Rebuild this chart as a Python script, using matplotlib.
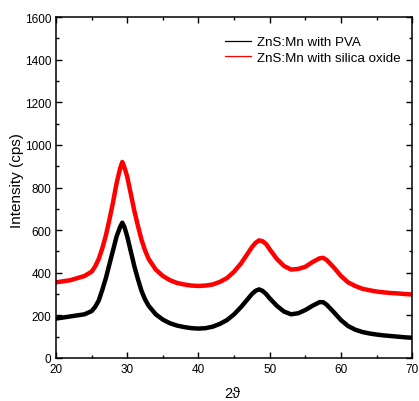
import matplotlib
matplotlib.use("Agg")
import matplotlib.pyplot as plt
from matplotlib.lines import Line2D
from matplotlib.ticker import MultipleLocator

plt.rcParams['font.family'] = ['Liberation Sans', 'DejaVu Sans']

# 2theta positions (deg)
two_theta = [20, 21, 22, 23, 24, 25, 25.5, 26, 26.5, 27, 27.5, 28, 28.5, 29, 29.3, 29.6,
             30, 30.5, 31, 31.5, 32, 32.5, 33, 34, 35, 36, 37, 38, 39, 40, 41, 42, 43, 44,
             45, 46, 47, 47.5, 48, 48.5, 49, 49.5, 50, 51, 52, 53, 54, 55, 56, 57, 57.5, 58,
             59, 60, 61, 62, 63, 64, 65, 66, 67, 68, 69, 70]

# ZnS:Mn with PVA (cps)
pva = [185, 190, 195, 200, 205, 220, 240, 270, 320, 375, 440, 505, 570, 615, 635, 615,
       570, 500, 430, 370, 315, 275, 245, 205, 180, 163, 152, 145, 140, 138, 140, 147, 160, 178,
       205, 240, 280, 300, 315, 322, 315, 300, 280, 245, 218, 205, 210, 225, 245, 262, 262, 250,
       215, 178, 150, 133, 122, 115, 110, 106, 103, 100, 97, 95]

# ZnS:Mn with silica oxide (cps)
silica = [355, 360, 365, 375, 385, 405, 430, 465, 515, 575, 650, 730, 820, 890, 920, 895,
          850, 770, 690, 620, 555, 505, 465, 415, 385, 365, 352, 345, 340, 338, 340, 345, 357, 375,
          405, 445, 495, 520, 540, 552, 548, 535, 510, 465, 432, 415, 418, 428, 450, 468, 470, 460,
          425, 385, 355, 338, 325, 318, 312, 308, 305, 303, 300, 298]

labels = ['ZnS:Mn with PVA', 'ZnS:Mn with silica oxide']

fig = plt.figure(figsize=(4.19, 4.02), dpi=100)
ax = fig.add_axes([0.1337, 0.107, 0.850, 0.848])

ax.plot(two_theta, pva, color='black', lw=3.2, solid_joinstyle='round')
ax.plot(two_theta, silica, color='red', lw=3.2, solid_joinstyle='round')

ax.set_xlim(20, 70)
ax.set_ylim(0, 1600)
ax.xaxis.set_major_locator(MultipleLocator(10))
ax.xaxis.set_minor_locator(MultipleLocator(5))
ax.yaxis.set_major_locator(MultipleLocator(200))
ax.yaxis.set_minor_locator(MultipleLocator(100))
ax.tick_params(which='both', direction='in', top=True, right=True, labelsize=8.5, width=1)
ax.tick_params(which='major', length=4)
ax.tick_params(which='minor', length=2.5)
for s in ax.spines.values():
    s.set_linewidth(1.1)

ax.set_xlabel('2\u03d1', fontsize=10.5)
ax.xaxis.set_label_coords(0.495, -0.083)
ax.set_ylabel('Intensity (cps)', fontsize=11)
ax.yaxis.set_label_coords(-0.09, 0.522)

handles = [Line2D([], [], color='black', lw=0.9), Line2D([], [], color='red', lw=0.9)]
ax.legend(handles, labels, loc='upper right', frameon=False, fontsize=9.6,
          handlelength=2.0, handletextpad=0.4, labelspacing=0.25,
          bbox_to_anchor=(1.0, 0.98))

fig.savefig('out.png', dpi=100)
